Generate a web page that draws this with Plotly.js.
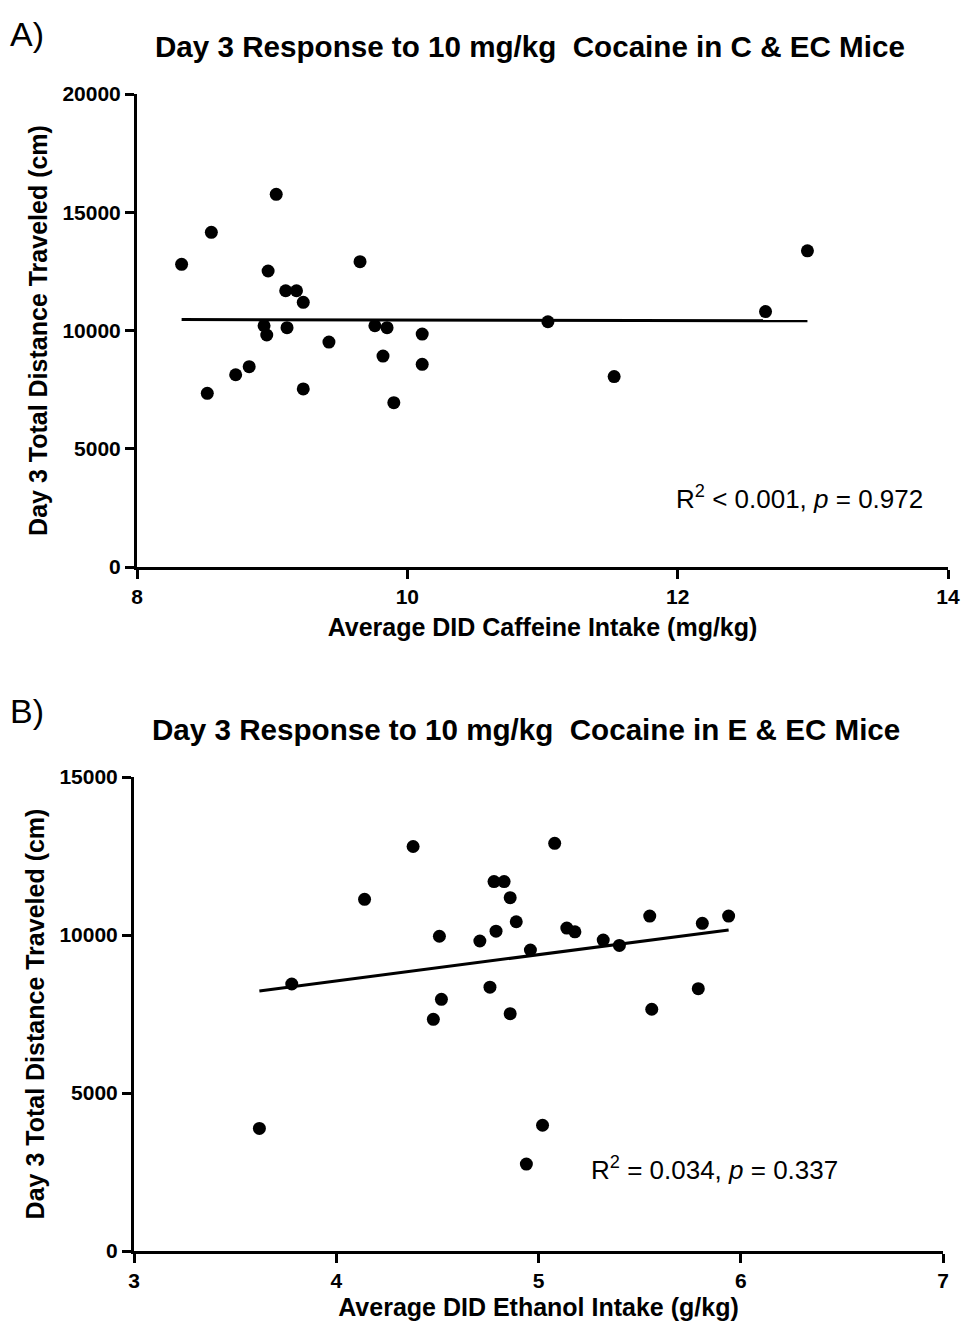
<!DOCTYPE html>
<html>
<head>
<meta charset="utf-8">
<script src="https://cdn.plot.ly/plotly-3.0.1.min.js"></script>
<style>html,body{margin:0;padding:0;background:#fff;}#chart{width:962px;height:1325px;}</style>
</head>
<body>
<div id="chart"></div>
<script>
// Panel A: caffeine intake vs Day 3 distance
var caffeineX = [8.33, 8.55, 9.03, 8.97, 9.10, 9.18, 9.23, 8.94, 8.96, 9.11, 9.42, 9.65, 9.76, 9.85, 10.11, 9.82, 10.11, 9.90, 9.23, 8.83, 8.73, 8.52, 11.04, 11.53, 12.65, 12.96];
var caffeineY = [12800, 14150, 15760, 12515, 11680, 11680, 11190, 10200, 9810, 10120, 9510, 12910, 10200, 10120, 9850, 8920, 8570, 6950, 7530, 8470, 8130, 7345, 10370, 8050, 10800, 13370];
var fitAX = [8.33, 12.96];
var fitAY = [10460, 10410];

// Panel B: ethanol intake vs Day 3 distance
var ethanolX = [3.78, 4.14, 4.38, 4.51, 4.71, 4.79, 4.78, 4.83, 4.86, 4.89, 4.96, 5.08, 5.14, 5.18, 4.52, 4.48, 4.76, 4.86, 5.55, 5.32, 5.40, 5.81, 5.94, 5.79, 5.56, 3.62, 5.02, 4.94];
var ethanolY = [8450, 11130, 12800, 9960, 9810, 10120, 11690, 11690, 11180, 10420, 9525, 12900, 10220, 10100, 7965, 7330, 8350, 7510, 10600, 9840, 9670, 10370, 10600, 8300, 7650, 3880, 3980, 2750];
var fitBX = [3.62, 5.94];
var fitBY = [8230, 10160];

var xTicksA = [8, 10, 12, 14];
var xLabelsA = ['8', '10', '12', '14'];
var yTicksA = [0, 5000, 10000, 15000, 20000];
var yLabelsA = ['0', '5000', '10000', '15000', '20000'];
var xTicksB = [3, 4, 5, 6, 7];
var xLabelsB = ['3', '4', '5', '6', '7'];
var yTicksB = [0, 5000, 10000, 15000];
var yLabelsB = ['0', '5000', '10000', '15000'];

var FONT = 'Arial, "Liberation Sans", sans-serif';
var W = 962, H = 1325;

var traces = [
  {x: caffeineX, y: caffeineY, type: 'scatter', mode: 'markers', xaxis: 'x', yaxis: 'y',
   marker: {color: '#000', size: 13}, cliponaxis: false},
  {x: fitAX, y: fitAY, type: 'scatter', mode: 'lines', xaxis: 'x', yaxis: 'y',
   line: {color: '#000', width: 3}},
  {x: ethanolX, y: ethanolY, type: 'scatter', mode: 'markers', xaxis: 'x2', yaxis: 'y2',
   marker: {color: '#000', size: 13}, cliponaxis: false},
  {x: fitBX, y: fitBY, type: 'scatter', mode: 'lines', xaxis: 'x2', yaxis: 'y2',
   line: {color: '#000', width: 3}}
];

function axisCommon(extra) {
  var a = {
    showline: true, linewidth: 3, linecolor: '#000',
    ticks: 'outside', ticklen: 9, tickwidth: 3, tickcolor: '#000',
    showgrid: false, zeroline: false, mirror: false,
    tickmode: 'array',
    tickfont: {family: FONT, size: 21, color: '#000', weight: 'bold'},
    fixedrange: true
  };
  for (var k in extra) a[k] = extra[k];
  return a;
}
var titleFont = {family: FONT, size: 25, weight: 'bold', color: '#000'};

var layout = {
  width: W, height: H,
  margin: {l: 0, r: 0, t: 0, b: 0},
  paper_bgcolor: '#fff', plot_bgcolor: '#fff',
  showlegend: false,
  font: {family: FONT, color: '#000'},
  xaxis: axisCommon({domain: [137/W, 948/W], range: [8, 14], tickvals: xTicksA, ticktext: xLabelsA, anchor: 'y',
    title: {text: 'Average DID Caffeine Intake (mg/kg)', font: titleFont, standoff: 12}}),
  yaxis: axisCommon({domain: [1 - 567/H, 1 - 94/H], range: [0, 20000], tickvals: yTicksA, ticktext: yLabelsA, anchor: 'x',
    title: {text: 'Day 3 Total Distance Traveled (cm)', font: titleFont, standoff: 8}}),
  xaxis2: axisCommon({domain: [134/W, 943/W], range: [3, 7], tickvals: xTicksB, ticktext: xLabelsB, anchor: 'y2',
    title: {text: 'Average DID Ethanol Intake (g/kg)', font: titleFont, standoff: 8}}),
  yaxis2: axisCommon({domain: [1 - 1251/H, 1 - 777/H], range: [0, 15000], tickvals: yTicksB, ticktext: yLabelsB, anchor: 'x2',
    title: {text: 'Day 3 Total Distance Traveled (cm)', font: titleFont, standoff: 8}}),
  annotations: [
    {text: 'A)', xref: 'paper', yref: 'paper', x: 8/W, y: 1 - 34/H, xanchor: 'left', yanchor: 'middle',
     showarrow: false, font: {family: FONT, size: 34, color: '#000'}},
    {text: 'Day 3 Response to 10 mg/kg  Cocaine in C &amp; EC Mice', xref: 'paper', yref: 'paper',
     x: 530/W, y: 1 - 47/H, xanchor: 'center', yanchor: 'middle', showarrow: false,
     font: {family: FONT, size: 29.6, weight: 'bold', color: '#000'}},
    {text: 'R<sup>2</sup> &lt; 0.001, <i>p</i> = 0.972', xref: 'paper', yref: 'paper',
     x: 674/W, y: 1 - 497/H, xanchor: 'left', yanchor: 'middle', showarrow: false,
     font: {family: FONT, size: 26, color: '#000'}},
    {text: 'B)', xref: 'paper', yref: 'paper', x: 8/W, y: 1 - 711/H, xanchor: 'left', yanchor: 'middle',
     showarrow: false, font: {family: FONT, size: 34, color: '#000'}},
    {text: 'Day 3 Response to 10 mg/kg  Cocaine in E &amp; EC Mice', xref: 'paper', yref: 'paper',
     x: 526/W, y: 1 - 729/H, xanchor: 'center', yanchor: 'middle', showarrow: false,
     font: {family: FONT, size: 29.6, weight: 'bold', color: '#000'}},
    {text: 'R<sup>2</sup> = 0.034, <i>p</i> = 0.337', xref: 'paper', yref: 'paper',
     x: 589/W, y: 1 - 1168/H, xanchor: 'left', yanchor: 'middle', showarrow: false,
     font: {family: FONT, size: 26, color: '#000'}}
  ]
};

Plotly.newPlot('chart', traces, layout, {staticPlot: true, displayModeBar: false});
</script>
</body>
</html>
